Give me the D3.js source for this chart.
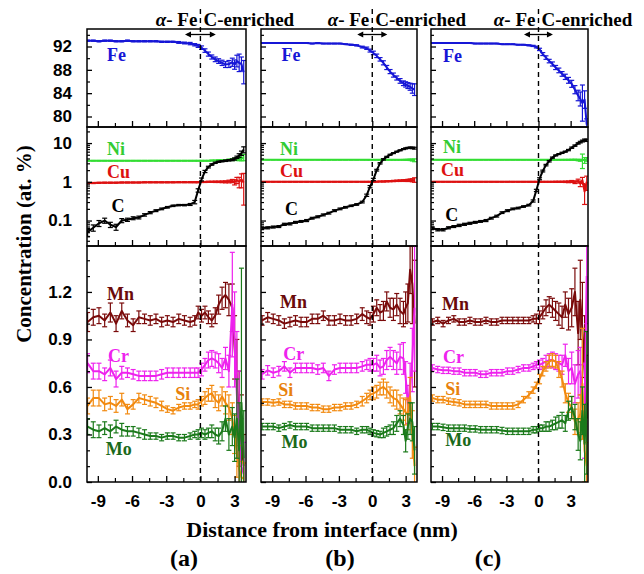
<!DOCTYPE html>
<html><head><meta charset="utf-8">
<script src="https://cdn.jsdelivr.net/npm/d3@7"></script>
<style>body{margin:0;background:#fff}svg{display:block}</style>
</head><body>
<svg id="chart" width="644" height="574"></svg>
<script>
// ---------------- DATA ----------------
const panelNames = ["(a)", "(b)", "(c)"];
const xTickLabels = [-9, -6, -3, 0, 3];
const feTickLabels = [80, 84, 88, 92];
const logTickLabels = [0.1, 1, 10];
const lowTickLabels = [0.0, 0.3, 0.6, 0.9, 1.2];

const xA = [-9.9,-9.4,-8.9,-8.4,-7.9,-7.4,-6.9,-6.4,-5.9,-5.4,-4.9,-4.4,-3.9,-3.4,-2.9,-2.4,-1.9,-1.4,-0.9,-0.5,-0.2,0.1,0.4,0.7,1.0,1.3,1.6,1.9,2.2,2.5,2.8,3.0,3.2,3.4,3.6,3.8];
const xB = [-9.9,-9.4,-8.9,-8.4,-7.9,-7.4,-6.9,-6.4,-5.9,-5.4,-4.9,-4.4,-3.9,-3.4,-2.9,-2.4,-1.9,-1.4,-0.9,-0.5,-0.2,0.1,0.4,0.7,1.0,1.3,1.6,1.9,2.2,2.5,2.8,3.0,3.2,3.4,3.6,3.8];
const xC = [-9.9,-9.4,-8.9,-8.4,-7.9,-7.4,-6.9,-6.4,-5.9,-5.4,-4.9,-4.4,-3.9,-3.4,-2.9,-2.4,-1.9,-1.4,-0.9,-0.5,-0.2,0.1,0.4,0.7,1.0,1.3,1.6,1.9,2.2,2.5,2.8,3.1,3.4,3.7,3.9,4.1,4.3,4.5];

// panel (a)
const feA = [93.0,93.0,92.9,93.0,93.0,92.9,92.9,93.0,92.9,92.9,92.9,92.9,92.9,92.8,92.8,92.8,92.7,92.6,92.5,92.3,92.1,91.8,91.3,90.7,90.2,89.8,89.5,89.2,88.9,89.0,89.3,88.9,89.5,89.2,89.0,87.6];
const feErrA = [0.1,0.1,0.1,0.1,0.1,0.1,0.1,0.1,0.1,0.1,0.1,0.1,0.1,0.1,0.1,0.1,0.15,0.15,0.2,0.2,0.25,0.3,0.3,0.35,0.35,0.4,0.4,0.45,0.5,0.6,0.7,0.8,1.0,1.5,1.2,2.0];
const niA = [3.5,3.5,3.5,3.5,3.5,3.5,3.5,3.5,3.5,3.5,3.5,3.5,3.5,3.5,3.5,3.5,3.5,3.5,3.5,3.5,3.5,3.5,3.5,3.5,3.55,3.55,3.6,3.6,3.65,3.7,3.75,3.8,3.9,4.0,3.9,4.3];
const niErrA = [0.05,0.05,0.05,0.05,0.05,0.05,0.05,0.05,0.05,0.05,0.05,0.05,0.05,0.05,0.05,0.05,0.05,0.05,0.05,0.05,0.05,0.05,0.05,0.05,0.06,0.06,0.08,0.08,0.1,0.15,0.2,0.25,0.3,0.5,0.4,0.8];
const cuA = [0.93,0.93,0.94,0.95,0.95,0.95,0.96,0.96,0.96,0.96,0.97,0.97,0.97,0.97,0.97,0.97,0.98,0.98,0.98,0.98,0.98,0.99,0.99,1.0,1.0,1.0,1.0,1.0,1.0,1.02,1.05,0.98,1.1,1.0,1.15,0.95];
const cuErrA = [0.03,0.03,0.03,0.03,0.03,0.03,0.03,0.03,0.03,0.03,0.03,0.03,0.03,0.03,0.03,0.03,0.03,0.03,0.03,0.03,0.03,0.03,0.03,0.03,0.03,0.04,0.04,0.05,0.06,0.08,0.1,0.15,0.2,0.3,0.45,0.7];
const cA = [0.05,0.065,0.085,0.1,0.078,0.068,0.1,0.105,0.115,0.12,0.14,0.16,0.18,0.2,0.22,0.24,0.25,0.25,0.26,0.3,0.6,1.15,1.85,2.4,2.8,3.1,3.3,3.4,3.5,3.6,3.7,3.9,4.3,4.8,5.5,6.8];
const cErrA = [0.012,0.012,0.015,0.015,0.012,0.012,0.012,0.01,0.01,0.01,0.01,0.01,0.01,0.01,0.01,0.01,0.01,0.01,0.015,0.03,0.06,0.1,0.12,0.12,0.12,0.12,0.12,0.12,0.15,0.15,0.2,0.25,0.3,0.5,0.7,1.2];
const mnA = [1.01,1.04,1.05,1.02,1.07,1.0,1.08,1.02,0.99,1.04,1.03,1.02,1.03,1.01,1.02,1.01,1.03,1.02,1.01,1.02,1.07,1.05,1.07,1.04,1.02,1.05,1.12,1.16,1.18,1.15,1.1,0.85,0.6,0.4,0.25,0.1];
const mnErrA = [0.06,0.05,0.05,0.04,0.06,0.05,0.05,0.04,0.04,0.04,0.03,0.03,0.03,0.03,0.03,0.03,0.03,0.03,0.03,0.03,0.04,0.04,0.04,0.04,0.04,0.05,0.06,0.07,0.08,0.1,0.15,0.2,0.3,0.3,0.3,0.2];
const crA = [0.75,0.7,0.7,0.68,0.72,0.65,0.69,0.69,0.68,0.67,0.67,0.67,0.67,0.68,0.69,0.69,0.69,0.69,0.69,0.69,0.69,0.71,0.74,0.77,0.78,0.77,0.75,0.72,0.78,0.7,1.12,0.9,0.55,0.3,0.1,0.05];
const crErrA = [0.06,0.05,0.05,0.04,0.05,0.05,0.04,0.03,0.03,0.03,0.03,0.03,0.03,0.03,0.03,0.03,0.03,0.03,0.03,0.03,0.03,0.04,0.04,0.05,0.05,0.05,0.06,0.06,0.07,0.1,0.33,0.3,0.4,0.4,0.3,0.2];
const siA = [0.48,0.53,0.53,0.49,0.5,0.48,0.52,0.46,0.49,0.53,0.52,0.51,0.5,0.48,0.46,0.45,0.47,0.48,0.48,0.49,0.49,0.51,0.53,0.55,0.56,0.52,0.5,0.54,0.5,0.47,0.4,0.3,0.18,0.08,0.03,0.02];
const siErrA = [0.05,0.05,0.05,0.04,0.04,0.04,0.04,0.03,0.03,0.03,0.03,0.03,0.03,0.03,0.02,0.02,0.02,0.02,0.02,0.02,0.03,0.03,0.04,0.04,0.05,0.05,0.05,0.06,0.07,0.08,0.1,0.12,0.15,0.15,0.1,0.1];
const moA = [0.35,0.33,0.32,0.34,0.32,0.35,0.33,0.32,0.32,0.31,0.3,0.29,0.29,0.28,0.29,0.29,0.28,0.28,0.29,0.3,0.3,0.31,0.3,0.31,0.32,0.3,0.29,0.32,0.4,0.3,0.35,0.28,0.4,0.2,0.5,0.15];
const moErrA = [0.05,0.05,0.04,0.04,0.04,0.04,0.04,0.03,0.03,0.03,0.03,0.02,0.02,0.02,0.02,0.02,0.02,0.02,0.02,0.02,0.03,0.03,0.03,0.03,0.04,0.04,0.05,0.06,0.08,0.1,0.12,0.15,0.25,0.3,0.85,0.3];

// panel (b)
const feB = [92.6,92.6,92.6,92.6,92.6,92.6,92.6,92.6,92.6,92.5,92.6,92.5,92.5,92.5,92.5,92.4,92.3,92.2,91.9,91.7,91.3,90.9,90.4,89.8,89.2,88.4,87.7,87.1,86.6,86.1,85.7,85.5,85.3,85.1,84.8,84.6];
const feErrB = [0.05,0.05,0.05,0.05,0.05,0.05,0.05,0.05,0.05,0.05,0.05,0.05,0.05,0.05,0.05,0.05,0.08,0.1,0.15,0.2,0.25,0.3,0.3,0.3,0.35,0.35,0.35,0.35,0.35,0.4,0.4,0.45,0.5,0.6,0.8,1.0];
const niB = [3.7,3.7,3.7,3.7,3.7,3.7,3.7,3.7,3.7,3.7,3.7,3.7,3.7,3.7,3.7,3.7,3.7,3.7,3.7,3.7,3.7,3.7,3.7,3.7,3.7,3.7,3.7,3.7,3.7,3.7,3.7,3.7,3.7,3.7,3.65,3.6];
const niErrB = [0.04,0.04,0.04,0.04,0.04,0.04,0.04,0.04,0.04,0.04,0.04,0.04,0.04,0.04,0.04,0.04,0.04,0.04,0.04,0.04,0.04,0.04,0.04,0.04,0.04,0.04,0.04,0.04,0.04,0.05,0.06,0.08,0.1,0.15,0.2,0.3];
const cuB = [1.0,1.0,1.0,1.0,1.0,1.0,1.0,1.0,1.0,1.0,1.0,1.0,1.0,1.0,1.0,1.0,1.0,1.0,1.0,1.0,1.0,1.0,1.01,1.02,1.02,1.03,1.04,1.05,1.06,1.07,1.08,1.08,1.09,1.1,1.1,1.12];
const cuErrB = [0.02,0.02,0.02,0.02,0.02,0.02,0.02,0.02,0.02,0.02,0.02,0.02,0.02,0.02,0.02,0.02,0.02,0.02,0.02,0.02,0.02,0.02,0.02,0.02,0.03,0.03,0.03,0.04,0.04,0.05,0.05,0.06,0.07,0.08,0.1,0.15];
const cB = [0.064,0.065,0.068,0.07,0.08,0.082,0.09,0.095,0.1,0.115,0.125,0.14,0.155,0.18,0.2,0.22,0.24,0.26,0.3,0.45,0.75,1.15,2.0,3.0,3.8,4.4,5.0,5.5,6.0,6.5,7.0,7.3,7.5,7.6,7.5,7.4];
const cErrB = [0.004,0.004,0.004,0.004,0.005,0.005,0.005,0.005,0.006,0.006,0.007,0.008,0.008,0.01,0.01,0.01,0.01,0.012,0.015,0.03,0.05,0.08,0.1,0.12,0.15,0.15,0.15,0.15,0.18,0.2,0.2,0.22,0.25,0.3,0.35,0.4];
const mnB = [1.02,1.04,1.03,1.02,1.0,1.01,1.02,1.01,1.01,1.03,1.03,1.05,1.02,1.02,1.03,1.02,1.02,1.03,1.06,1.04,1.03,1.06,1.1,1.07,1.08,1.14,1.1,1.09,1.12,1.08,1.06,1.1,1.13,1.34,1.25,1.0];
const mnErrB = [0.03,0.03,0.03,0.03,0.03,0.03,0.03,0.03,0.03,0.03,0.03,0.03,0.03,0.03,0.03,0.03,0.03,0.03,0.04,0.04,0.04,0.05,0.05,0.05,0.06,0.06,0.06,0.07,0.07,0.08,0.08,0.1,0.12,0.15,0.25,0.4];
const crB = [0.68,0.705,0.69,0.7,0.73,0.69,0.72,0.72,0.72,0.72,0.71,0.72,0.67,0.71,0.72,0.72,0.72,0.72,0.73,0.74,0.74,0.74,0.75,0.72,0.73,0.77,0.79,0.77,0.75,0.79,0.78,0.66,0.49,0.6,0.77,1.1];
const crErrB = [0.03,0.03,0.03,0.03,0.03,0.03,0.03,0.03,0.03,0.03,0.03,0.03,0.03,0.03,0.03,0.03,0.03,0.03,0.03,0.03,0.04,0.04,0.05,0.05,0.05,0.06,0.06,0.06,0.07,0.08,0.1,0.1,0.12,0.15,0.2,0.4];
const siB = [0.505,0.505,0.5,0.505,0.49,0.49,0.48,0.48,0.48,0.47,0.47,0.46,0.46,0.47,0.47,0.48,0.48,0.49,0.51,0.53,0.55,0.56,0.57,0.59,0.6,0.58,0.55,0.53,0.52,0.49,0.46,0.44,0.43,0.54,0.3,0.1];
const siErrB = [0.02,0.02,0.02,0.02,0.02,0.02,0.02,0.02,0.02,0.02,0.02,0.02,0.02,0.02,0.02,0.02,0.02,0.02,0.03,0.03,0.03,0.04,0.04,0.04,0.05,0.05,0.05,0.05,0.06,0.06,0.07,0.08,0.1,0.12,0.15,0.12];
const moB = [0.35,0.35,0.35,0.34,0.35,0.36,0.35,0.35,0.35,0.34,0.34,0.34,0.34,0.34,0.33,0.33,0.33,0.32,0.33,0.33,0.32,0.31,0.305,0.3,0.31,0.32,0.33,0.34,0.37,0.4,0.36,0.26,0.35,0.4,0.38,0.2];
const moErrB = [0.02,0.02,0.02,0.02,0.02,0.02,0.02,0.02,0.02,0.02,0.02,0.02,0.02,0.02,0.02,0.02,0.02,0.02,0.02,0.02,0.02,0.02,0.02,0.02,0.03,0.03,0.03,0.04,0.05,0.05,0.06,0.07,0.08,0.1,0.12,0.15];

// panel (c)
const feC = [92.6,92.6,92.6,92.6,92.6,92.6,92.6,92.6,92.5,92.5,92.5,92.5,92.5,92.4,92.4,92.4,92.3,92.3,92.2,92.1,91.9,91.5,90.7,90.1,89.5,89.0,88.4,87.9,87.3,86.8,86.2,85.6,84.6,83.6,83.0,82.3,82.9,78.6];
const feErrC = [0.05,0.05,0.05,0.05,0.05,0.05,0.05,0.05,0.05,0.05,0.05,0.05,0.05,0.05,0.05,0.05,0.05,0.05,0.08,0.1,0.15,0.2,0.25,0.3,0.3,0.35,0.35,0.4,0.4,0.45,0.5,0.6,0.7,0.9,1.2,3.1,1.5,1.0];
const niC = [3.7,3.7,3.7,3.7,3.7,3.7,3.7,3.7,3.7,3.7,3.7,3.7,3.7,3.7,3.7,3.7,3.7,3.7,3.7,3.7,3.7,3.7,3.7,3.7,3.7,3.7,3.7,3.7,3.7,3.7,3.7,3.7,3.7,3.65,3.6,3.7,3.6,3.8];
const niErrC = [0.04,0.04,0.04,0.04,0.04,0.04,0.04,0.04,0.04,0.04,0.04,0.04,0.04,0.04,0.04,0.04,0.04,0.04,0.04,0.04,0.04,0.04,0.04,0.04,0.04,0.04,0.05,0.05,0.06,0.07,0.08,0.1,0.12,0.15,0.2,1.5,0.6,0.4];
const cuC = [1.0,1.0,1.0,1.0,1.0,1.0,1.0,1.0,1.0,1.0,1.0,1.0,1.0,1.0,1.0,1.0,1.0,1.0,1.0,1.0,1.0,1.0,1.0,1.0,1.0,1.0,1.0,1.0,1.0,1.0,1.0,1.02,0.98,1.05,0.9,1.1,0.56,1.0];
const cuErrC = [0.02,0.02,0.02,0.02,0.02,0.02,0.02,0.02,0.02,0.02,0.02,0.02,0.02,0.02,0.02,0.02,0.02,0.02,0.02,0.02,0.02,0.02,0.02,0.02,0.02,0.02,0.03,0.03,0.03,0.04,0.05,0.06,0.08,0.12,0.15,0.2,0.3,0.4];
const cC = [0.064,0.058,0.058,0.065,0.07,0.075,0.08,0.085,0.09,0.095,0.1,0.115,0.13,0.16,0.18,0.2,0.21,0.23,0.25,0.32,0.6,1.2,1.9,2.7,3.4,4.2,4.8,5.2,5.6,6.0,6.6,7.6,8.6,9.8,10.6,11.3,12.0,11.8];
const cErrC = [0.004,0.004,0.004,0.004,0.004,0.005,0.005,0.005,0.005,0.005,0.006,0.006,0.007,0.008,0.01,0.01,0.01,0.01,0.012,0.02,0.04,0.07,0.1,0.12,0.15,0.15,0.15,0.15,0.2,0.2,0.25,0.3,0.35,0.4,0.5,0.6,0.7,0.8];
const mnC = [1.01,1.02,1.0,1.02,1.03,1.01,1.01,1.02,1.01,1.01,1.02,1.01,1.01,1.02,1.02,1.02,1.02,1.02,1.02,1.03,1.03,1.04,1.07,1.1,1.12,1.1,1.08,1.06,1.04,1.12,1.06,1.1,1.2,0.94,1.15,0.96,0.7,0.4];
const mnErrC = [0.02,0.02,0.02,0.02,0.02,0.02,0.02,0.02,0.02,0.02,0.02,0.02,0.02,0.02,0.02,0.02,0.02,0.02,0.02,0.02,0.03,0.04,0.04,0.05,0.05,0.06,0.06,0.07,0.07,0.08,0.1,0.12,0.15,0.2,0.25,0.3,0.35,0.4];
const crC = [0.72,0.71,0.705,0.705,0.7,0.7,0.69,0.69,0.69,0.68,0.68,0.69,0.69,0.69,0.7,0.7,0.71,0.72,0.72,0.73,0.74,0.74,0.75,0.76,0.77,0.77,0.76,0.75,0.74,0.8,0.7,0.72,0.62,0.68,0.7,0.54,0.45,1.3];
const crErrC = [0.02,0.02,0.02,0.02,0.02,0.02,0.02,0.02,0.02,0.02,0.02,0.02,0.02,0.02,0.02,0.02,0.02,0.02,0.02,0.02,0.02,0.03,0.03,0.04,0.04,0.05,0.05,0.05,0.06,0.07,0.08,0.1,0.12,0.15,0.15,0.2,0.3,0.3];
const siC = [0.53,0.52,0.52,0.51,0.505,0.5,0.49,0.49,0.49,0.49,0.49,0.48,0.48,0.48,0.48,0.48,0.49,0.52,0.55,0.58,0.61,0.65,0.7,0.73,0.76,0.77,0.76,0.71,0.65,0.56,0.5,0.47,0.38,0.4,0.43,0.62,0.2,0.1];
const siErrC = [0.02,0.02,0.02,0.02,0.02,0.02,0.02,0.02,0.02,0.02,0.02,0.02,0.02,0.02,0.02,0.02,0.02,0.02,0.02,0.02,0.02,0.03,0.03,0.03,0.04,0.04,0.04,0.05,0.05,0.06,0.06,0.07,0.08,0.1,0.12,0.35,0.2,0.15];
const moC = [0.35,0.35,0.345,0.34,0.34,0.34,0.34,0.335,0.335,0.33,0.33,0.33,0.33,0.325,0.32,0.32,0.32,0.32,0.32,0.33,0.33,0.34,0.34,0.35,0.35,0.36,0.37,0.38,0.39,0.37,0.45,0.47,0.41,0.3,0.26,0.45,0.24,0.5];
const moErrC = [0.02,0.02,0.02,0.02,0.02,0.02,0.02,0.02,0.02,0.02,0.02,0.02,0.02,0.02,0.02,0.02,0.02,0.02,0.02,0.02,0.02,0.02,0.02,0.03,0.03,0.03,0.04,0.04,0.05,0.05,0.06,0.07,0.08,0.1,0.12,0.15,0.25,0.45];

// ---------------- DRAWING ----------------
const SERIF = "'Liberation Serif','Times New Roman',serif";
const SANS = "'Liberation Sans',Arial,sans-serif";
const colors = {Fe:"#1616d6", Ni:"#33dd33", Cu:"#dd1111", C:"#000000", Mn:"#7a0a0a", Cr:"#ee22ee", Si:"#f28a10", Mo:"#1b7a1b"};
const labelColors = {Fe:"#1616d6", Ni:"#33cc33", Cu:"#dd1111", C:"#000000", Mn:"#6a0a0a", Cr:"#ee22ee", Si:"#e8820c", Mo:"#1b6a1b"};

const svg = d3.select("#chart");
const rowFe = {top:29, bottom:127}, rowLg = {top:127, bottom:246}, rowLo = {top:246, bottom:482};
const yFe = d3.scaleLinear().domain([78.2, 95]).range([rowFe.bottom, rowFe.top]);
const yLg = d3.scaleLog().domain([0.022, 26]).range([rowLg.bottom, rowLg.top]);
const yLo = d3.scaleLinear().domain([0, 1.49]).range([rowLo.bottom, rowLo.top]);

const columns = [
  {left:87, right:246, dom:[-9.95, 4.0], xs:xA, name:panelNames[0],
   s:{Fe:[feA,feErrA], Ni:[niA,niErrA], Cu:[cuA,cuErrA], C:[cA,cErrA], Mn:[mnA,mnErrA], Cr:[crA,crErrA], Si:[siA,siErrA], Mo:[moA,moErrA]},
   lab:{Fe:[-8.2,89.5], Ni:[-8.2,5.0], Cu:[-8.2,1.27], C:[-7.8,0.168], Mn:[-8.2,1.148], Cr:[-8.1,0.757], Si:[-2.2,0.516], Mo:[-8.3,0.17]},
   labelX:184},
  {left:261, right:417, dom:[-10.0, 4.02], xs:xB, name:panelNames[1],
   s:{Fe:[feB,feErrB], Ni:[niB,niErrB], Cu:[cuB,cuErrB], C:[cB,cErrB], Mn:[mnB,mnErrB], Cr:[crB,crErrB], Si:[siB,siErrB], Mo:[moB,moErrB]},
   lab:{Fe:[-8.15,89.6], Ni:[-8.3,5.0], Cu:[-8.3,1.37], C:[-7.85,0.14], Mn:[-8.3,1.10], Cr:[-8.0,0.769], Si:[-8.45,0.543], Mo:[-8.15,0.217]},
   labelX:340},
  {left:431, right:588, dom:[-10.03, 4.62], xs:xC, name:panelNames[2],
   s:{Fe:[feC,feErrC], Ni:[niC,niErrC], Cu:[cuC,cuErrC], C:[cC,cErrC], Mn:[mnC,mnErrC], Cr:[crC,crErrC], Si:[siC,siErrC], Mo:[moC,moErrC]},
   lab:{Fe:[-8.9,89.26], Ni:[-8.9,5.5], Cu:[-9.1,1.43], C:[-8.7,0.1], Mn:[-9.0,1.085], Cr:[-8.9,0.754], Si:[-8.7,0.548], Mo:[-8.7,0.225]},
   labelX:488}
];

function range(a, b, step) { const out = []; for (let v = a; v <= b + 1e-9; v += step) out.push(+v.toFixed(3)); return out; }
const feMinor = range(82, 94, 4);
const lgMinor = [];
[0.01, 0.1, 1, 10].forEach(d => { for (let k = 2; k <= 9; k++) { const v = d * k; if (v > 0.022 && v < 26) lgMinor.push(v); } });
const loMinor = range(0.1, 1.4, 0.1).filter(v => Math.abs(v / 0.3 - Math.round(v / 0.3)) > 1e-6);

columns.forEach((col, ci) => {
  const x = d3.scaleLinear().domain(col.dom).range([col.left, col.right]);
  const g = svg.append("g");
  const panels = [
    {row:rowFe, y:yFe, names:["Fe"], major:feTickLabels, minor:feMinor, fmt:d => String(d), log:false},
    {row:rowLg, y:yLg, names:["Ni","Cu","C"], major:logTickLabels, minor:lgMinor, fmt:d => String(d), log:true},
    {row:rowLo, y:yLo, names:["Mn","Cr","Si","Mo"], major:lowTickLabels, minor:loMinor, fmt:d3.format(".1f"), log:false}
  ];
  panels.forEach((p, pi) => {
    const clipId = "clip" + ci + "_" + pi;
    g.append("clipPath").attr("id", clipId).append("rect")
      .attr("x", col.left).attr("y", p.row.top).attr("width", col.right - col.left).attr("height", p.row.bottom - p.row.top);
    const pg = g.append("g").attr("clip-path", "url(#" + clipId + ")");
    const lo = p.y.domain()[0];
    p.names.forEach(nm => {
      const [vals, errs] = col.s[nm];
      const pts = col.xs.map((xv, i) => ({x:xv, v:vals[i], e:errs[i]}));
      const sg = pg.append("g");
      pts.forEach(d => {
        const y1 = p.y(Math.max(d.v - d.e, p.log ? lo * 0.5 : -1));
        const y2 = p.y(d.v + d.e);
        const xx = x(d.x);
        sg.append("line").attr("x1", xx).attr("x2", xx).attr("y1", y1).attr("y2", y2)
          .attr("stroke", colors[nm]).attr("stroke-width", 1.2);
        [y1, y2].forEach(yy => sg.append("line").attr("x1", xx - 2.5).attr("x2", xx + 2.5).attr("y1", yy).attr("y2", yy)
          .attr("stroke", colors[nm]).attr("stroke-width", 1.2));
      });
      sg.append("path").datum(pts)
        .attr("d", d3.line().x(d => x(d.x)).y(d => p.y(d.v)))
        .attr("fill", "none").attr("stroke", colors[nm]).attr("stroke-width", 2).attr("stroke-linejoin", "round");
      const L = col.lab[nm];
      g.append("text").attr("x", x(L[0])).attr("y", p.y(L[1]))
        .attr("font-family", SERIF).attr("font-weight", "bold").attr("font-size", 18)
        .attr("fill", labelColors[nm]).text(nm);
    });
    g.append("rect").attr("x", col.left).attr("y", p.row.top).attr("width", col.right - col.left).attr("height", p.row.bottom - p.row.top)
      .attr("fill", "none").attr("stroke", "#000").attr("stroke-width", 1.5);
    const yMaj = g.append("g").attr("transform", `translate(${col.left},0)`)
      .call(d3.axisLeft(p.y).tickValues(p.major).tickSize(-5).tickPadding(15).tickFormat(ci === 0 ? p.fmt : () => ""));
    yMaj.select(".domain").remove();
    yMaj.selectAll("line").attr("stroke-width", 1.3);
    yMaj.selectAll("text").attr("font-family", SANS).attr("font-weight", "bold").attr("font-size", 17).attr("fill", "#000");
    const yMin = g.append("g").attr("transform", `translate(${col.left},0)`)
      .call(d3.axisLeft(p.y).tickValues(p.minor).tickSize(-3).tickFormat(() => ""));
    yMin.select(".domain").remove();
    yMin.selectAll("line").attr("stroke-width", 1.2);
    const xMaj = g.append("g").attr("transform", `translate(0,${p.row.bottom})`)
      .call(d3.axisBottom(x).tickValues(xTickLabels).tickSize(-6).tickPadding(13).tickFormat(pi === 2 ? (d => String(d)) : () => ""));
    xMaj.select(".domain").remove();
    xMaj.selectAll("line").attr("stroke-width", 1.3);
    xMaj.selectAll("text").attr("font-family", SANS).attr("font-weight", "bold").attr("font-size", 17).attr("fill", "#000");
    const xMin = g.append("g").attr("transform", `translate(0,${p.row.bottom})`)
      .call(d3.axisBottom(x).tickValues([-7.5, -4.5, -1.5, 1.5]).tickSize(-4).tickFormat(() => ""));
    xMin.select(".domain").remove();
    xMin.selectAll("line").attr("stroke-width", 1.2);
  });

  const x0 = x(0);
  g.append("line").attr("x1", x0).attr("x2", x0).attr("y1", 9).attr("y2", rowLo.bottom)
    .attr("stroke", "#000").attr("stroke-width", 1.4).attr("stroke-dasharray", "5,4");
  const hdr = g.append("text").attr("x", x0 - 3).attr("y", 26).attr("text-anchor", "end")
    .attr("font-family", SERIF).attr("font-weight", "bold").attr("font-size", 19);
  hdr.append("tspan").attr("font-style", "italic").text("α");
  hdr.append("tspan").text("- Fe");
  g.append("text").attr("x", x0 + 3).attr("y", 26).attr("text-anchor", "start")
    .attr("font-family", SERIF).attr("font-weight", "bold").attr("font-size", 19).text("C-enriched");
  const ax1 = x(-1.35), ax2 = x(1.35), ay = 34.5;
  g.append("line").attr("x1", ax1 + 2).attr("x2", ax2 - 2).attr("y1", ay).attr("y2", ay).attr("stroke", "#000").attr("stroke-width", 1.3);
  g.append("path").attr("d", `M${ax1},${ay}L${ax1 + 6},${ay - 3}L${ax1 + 6},${ay + 3}Z`).attr("fill", "#000");
  g.append("path").attr("d", `M${ax2},${ay}L${ax2 - 6},${ay - 3}L${ax2 - 6},${ay + 3}Z`).attr("fill", "#000");
  svg.append("text").attr("x", col.labelX).attr("y", 566).attr("text-anchor", "middle")
    .attr("font-family", SERIF).attr("font-weight", "bold").attr("font-size", 24).text(col.name);
});

svg.append("text").attr("x", 322).attr("y", 537).attr("text-anchor", "middle")
  .attr("font-family", SERIF).attr("font-weight", "bold").attr("font-size", 22).text("Distance from interface (nm)");
svg.append("text").attr("transform", "translate(31,244) rotate(-90)").attr("text-anchor", "middle")
  .attr("font-family", SERIF).attr("font-weight", "bold").attr("font-size", 21).text("Concentration (at. %)");
</script>
</body></html>
